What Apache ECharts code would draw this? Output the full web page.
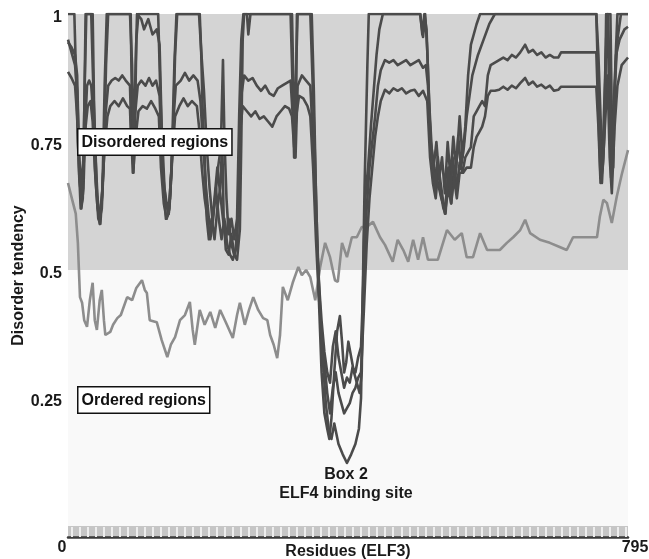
<!DOCTYPE html>
<html>
<head>
<meta charset="utf-8">
<script src="https://cdn.jsdelivr.net/npm/echarts@6/dist/echarts.min.js"></script>
<style>html,body{margin:0;padding:0;background:#fff;}#c{width:649px;height:559px;}</style>
</head>
<body>
<div id="c"></div>
<script>
// Residue range and tick labels
const residueMin = 0;
const residueMax = 795;
const xTickLabels = [0, 795];
const yTickValues = [0.25, 0.5, 0.75, 1];
const disorderThreshold = 0.5;

// Light grey predictor
const seriesLight = [[0,0.67],[6,0.637],[11,0.61],[14,0.553],[17,0.447],[20,0.436],[23,0.402],[27,0.389],[31,0.441],[35,0.475],[38,0.402],[41,0.383],[45,0.441],[48,0.461],[51,0.402],[53,0.373],[60,0.379],[64,0.393],[70,0.406],[75,0.412],[84,0.447],[91,0.441],[97,0.465],[105,0.48],[109,0.461],[112,0.455],[116,0.402],[126,0.398],[133,0.363],[141,0.33],[146,0.354],[152,0.369],[159,0.402],[166,0.412],[173,0.4375],[177,0.383],[180,0.354],[187,0.422],[194,0.393],[202,0.418],[209,0.387],[216,0.422],[224,0.398],[234,0.367],[240,0.412],[244,0.436],[251,0.393],[257,0.422],[263,0.447],[270,0.422],[277,0.406],[283,0.402],[287,0.373],[292,0.354],[297,0.328],[301,0.373],[305,0.467],[312,0.441],[319,0.475],[327,0.506],[332,0.49],[338,0.5],[344,0.486],[351,0.441],[358,0.506],[365,0.553],[372,0.525],[379,0.48],[383,0.477],[389,0.553],[396,0.525],[403,0.564],[410,0.564],[417,0.584],[424,0.584],[433,0.594],[443,0.564],[450,0.549],[461,0.516],[468,0.559],[476,0.539],[483,0.516],[490,0.559],[497,0.52],[504,0.564],[511,0.52],[525,0.52],[538,0.578],[549,0.559],[559,0.572],[566,0.525],[575,0.525],[585,0.572],[595,0.539],[613,0.539],[623,0.553],[632,0.564],[642,0.578],[649,0.598],[656,0.572],[670,0.559],[684,0.553],[698,0.545],[708,0.539],[717,0.564],[751,0.564],[755,0.604],[760,0.637],[765,0.631],[772,0.592],[779,0.643],[786,0.686],[795,0.734]];

// Dark predictors
const seriesA = [[0,1],[9,1],[11,0.9],[14,0.75],[18,0.62],[21,0.64],[23,0.8],[25,1],[35,1],[37,0.82],[41,0.65],[45,0.59],[49,0.66],[52,0.86],[55,1],[89,1],[91,0.8],[93,0.69],[95,0.78],[97,0.95],[100,1],[128,1],[131,0.85],[135,0.68],[139,0.6],[143,0.61],[147,0.7],[151,0.9],[154,1],[187,1],[189,0.93],[191,0.82],[194,0.72],[197,0.6],[200,0.56],[204,0.6],[208,0.56],[212,0.62],[216,0.66],[219,0.75],[221,0.6],[224,0.54],[228,0.53],[232,0.57],[236,0.53],[240,0.52],[244,0.58],[246,0.75],[248,0.95],[250,1],[316,1],[319,0.85],[321,0.72],[323,0.75],[325,1],[346,1],[349,0.85],[352,0.65],[356,0.45],[360,0.3],[364,0.22],[368,0.19],[371,0.17],[374,0.21],[378,0.3],[382,0.38],[386,0.41],[389,0.36],[392,0.3],[395,0.32],[398,0.36],[402,0.33],[406,0.3],[410,0.28],[414,0.26],[417,0.3],[419,0.5],[421,0.66],[423,0.78],[425,0.9],[427,1],[500,1],[503,0.96],[506,1],[509,0.97],[512,0.85],[515,0.74],[519,0.7],[523,0.75],[527,0.68],[531,0.72],[535,0.65],[539,0.75],[543,0.68],[547,0.76],[551,0.7],[556,0.8],[560,0.72],[564,0.78],[568,0.88],[572,0.94],[576,0.96],[580,0.98],[585,1],[750,1],[753,0.92],[756,0.8],[759,0.7],[762,0.8],[764,1],[770,1],[772,0.8],[774,0.7],[777,0.9],[780,1],[795,1]];

const seriesB = [[0,0.945],[5,0.935],[10,0.92],[13,0.88],[16,0.7],[19,0.62],[22,0.66],[25,0.8],[27,0.86],[30,0.87],[33,0.86],[36,0.8],[39,0.68],[43,0.6],[46,0.59],[49,0.66],[53,0.8],[57,0.86],[62,0.87],[67,0.875],[72,0.87],[77,0.88],[82,0.87],[88,0.86],[90,0.76],[92,0.69],[95,0.8],[99,0.86],[104,0.87],[110,0.86],[115,0.875],[120,0.86],[125,0.87],[130,0.84],[134,0.7],[139,0.63],[143,0.61],[147,0.7],[150,0.8],[153,0.86],[160,0.87],[166,0.885],[172,0.87],[178,0.88],[184,0.87],[188,0.83],[192,0.74],[196,0.66],[200,0.6],[204,0.58],[208,0.64],[212,0.7],[216,0.65],[220,0.6],[224,0.56],[228,0.6],[232,0.55],[236,0.53],[240,0.55],[243,0.7],[246,0.84],[250,0.88],[256,0.87],[262,0.875],[268,0.86],[274,0.85],[280,0.86],[286,0.845],[292,0.84],[298,0.855],[304,0.86],[310,0.865],[316,0.87],[320,0.78],[323,0.72],[326,0.86],[332,0.88],[338,0.87],[344,0.86],[348,0.75],[352,0.6],[356,0.48],[360,0.4],[364,0.34],[368,0.3],[372,0.28],[376,0.35],[380,0.38],[384,0.33],[388,0.3],[392,0.27],[396,0.29],[400,0.28],[404,0.31],[408,0.3],[412,0.33],[416,0.35],[420,0.5],[424,0.62],[428,0.7],[432,0.75],[436,0.8],[440,0.86],[444,0.89],[450,0.91],[456,0.905],[462,0.91],[468,0.9],[474,0.905],[480,0.91],[486,0.9],[492,0.905],[498,0.91],[504,0.895],[508,0.9],[511,0.86],[515,0.75],[520,0.7],[525,0.67],[530,0.64],[535,0.62],[540,0.68],[544,0.63],[548,0.7],[552,0.66],[556,0.71],[560,0.69],[564,0.72],[568,0.73],[572,0.74],[576,0.8],[580,0.81],[584,0.82],[588,0.83],[592,0.82],[596,0.88],[600,0.9],[606,0.905],[612,0.91],[618,0.915],[624,0.91],[630,0.92],[636,0.915],[642,0.925],[649,0.94],[654,0.925],[660,0.93],[666,0.92],[672,0.925],[678,0.915],[684,0.92],[690,0.915],[696,0.915],[700,0.925],[720,0.925],[740,0.925],[750,0.925],[753,0.8],[756,0.68],[759,0.72],[763,0.9],[766,1],[768,0.85],[771,0.68],[774,0.8],[778,0.92],[783,0.95],[790,0.97],[795,0.975]];

const seriesC = [[0,0.887],[5,0.875],[10,0.86],[13,0.8],[16,0.68],[19,0.64],[22,0.7],[25,0.78],[28,0.82],[32,0.83],[35,0.79],[38,0.7],[42,0.62],[45,0.6],[48,0.64],[52,0.74],[56,0.8],[60,0.82],[66,0.83],[72,0.82],[78,0.835],[84,0.82],[88,0.815],[90,0.74],[93,0.7],[96,0.76],[100,0.81],[106,0.82],[112,0.815],[118,0.83],[124,0.815],[129,0.8],[132,0.7],[136,0.63],[140,0.6],[144,0.62],[148,0.72],[152,0.8],[158,0.82],[164,0.835],[170,0.82],[176,0.83],[183,0.82],[186,0.78],[190,0.7],[194,0.64],[198,0.6],[202,0.56],[206,0.6],[210,0.66],[214,0.6],[218,0.56],[222,0.6],[226,0.55],[230,0.53],[234,0.52],[238,0.54],[242,0.62],[245,0.78],[248,0.82],[254,0.81],[260,0.8],[266,0.81],[272,0.795],[278,0.8],[284,0.79],[290,0.78],[296,0.8],[302,0.81],[308,0.82],[314,0.815],[318,0.8],[321,0.74],[324,0.8],[328,0.84],[334,0.835],[340,0.82],[344,0.8],[348,0.7],[352,0.56],[356,0.45],[360,0.38],[364,0.32],[368,0.26],[372,0.22],[376,0.27],[380,0.3],[384,0.26],[388,0.24],[392,0.22],[396,0.23],[400,0.24],[404,0.26],[408,0.27],[412,0.29],[416,0.3],[420,0.42],[424,0.55],[428,0.64],[432,0.7],[436,0.76],[440,0.8],[444,0.83],[450,0.852],[456,0.845],[462,0.855],[468,0.85],[474,0.855],[480,0.845],[486,0.85],[492,0.852],[498,0.84],[504,0.85],[510,0.83],[514,0.72],[518,0.67],[522,0.64],[526,0.7],[530,0.66],[535,0.61],[540,0.66],[544,0.63],[548,0.68],[552,0.64],[556,0.69],[561,0.69],[566,0.7],[572,0.7],[576,0.74],[580,0.76],[584,0.77],[588,0.78],[592,0.8],[596,0.84],[600,0.85],[606,0.85],[612,0.852],[618,0.858],[624,0.852],[630,0.86],[636,0.855],[642,0.865],[649,0.875],[654,0.862],[660,0.868],[666,0.858],[672,0.862],[678,0.855],[684,0.86],[690,0.85],[696,0.852],[700,0.858],[720,0.858],[740,0.858],[750,0.858],[753,0.78],[756,0.67],[759,0.7],[763,0.8],[766,0.88],[769,0.72],[772,0.65],[776,0.78],[780,0.86],[786,0.9],[795,0.915]];

const seriesD = [[0,0.95],[6,0.92],[10,0.9],[13,0.85],[16,0.72],[19,0.66],[22,0.72],[24,0.88],[26,1],[33,1],[35,0.9],[39,0.72],[42,0.64],[45,0.6],[48,0.62],[51,0.72],[54,0.9],[57,1],[88,1],[91,0.9],[93,0.72],[96,0.9],[98,1],[104,0.99],[108,0.97],[114,0.99],[120,0.96],[126,0.97],[130,0.94],[133,0.78],[137,0.66],[141,0.62],[145,0.64],[149,0.76],[152,0.92],[155,1],[186,1],[189,0.93],[193,0.85],[197,0.74],[201,0.66],[205,0.6],[209,0.64],[213,0.7],[217,0.74],[220,0.91],[222,0.76],[225,0.64],[228,0.57],[232,0.6],[236,0.56],[240,0.6],[243,0.8],[246,0.95],[249,1],[254,1],[256,0.96],[259,1],[318,1],[320,0.86],[322,0.72],[324,0.9],[326,1],[344,1],[346,0.92],[350,0.75],[354,0.55],[358,0.42],[362,0.32],[366,0.24],[370,0.19],[374,0.17],[378,0.2],[384,0.16],[390,0.14],[396,0.123],[402,0.14],[408,0.16],[413,0.19],[416,0.25],[418,0.4],[420,0.55],[422,0.64],[426,0.7],[430,0.78],[434,0.85],[438,0.92],[442,0.97],[447,1],[500,1],[504,0.955],[507,1],[510,0.93],[513,0.82],[517,0.72],[521,0.66],[525,0.72],[529,0.65],[533,0.62],[536,0.61],[540,0.7],[543,0.65],[546,0.72],[550,0.68],[554,0.76],[558,0.7],[562,0.74],[566,0.8],[570,0.84],[574,0.88],[578,0.9],[582,0.92],[590,0.95],[598,0.98],[606,1],[750,1],[752,0.9],[755,0.75],[758,0.67],[761,0.75],[764,0.95],[766,1],[769,0.9],[772,0.7],[776,0.85],[780,0.95],[785,1],[795,1]];

const FONT = '"Liberation Sans", Arial, sans-serif';
const stripBottom = -0.0215;
const stripeStep = 11.4;
const stripeTicks = [];
for (let v = stripeStep / 2; v < residueMax; v += stripeStep) stripeTicks.push(v);

const chart = echarts.init(document.getElementById('c'), null, {renderer: 'canvas'});
const darkLine = (data) => ({
  type: 'line', data, showSymbol: false, symbol: 'none', smooth: false, z: 3,
  lineStyle: {color: '#4b4b4b', width: 2.6, join: 'round'}
});
const labelRich = {fontFamily: FONT, fontWeight: 'bold', fontSize: 16, color: '#1a1a1a'};

chart.setOption({
  animation: false,
  backgroundColor: '#ffffff',
  grid: {left: 68, right: 21, top: 14, bottom: 22, containLabel: false, outerBoundsMode: 'none'},
  xAxis: {
    type: 'value', min: residueMin, max: residueMax, z: 10,
    name: 'Residues (ELF3)', nameLocation: 'middle', nameGap: 7, nameMoveOverlap: false,
    nameTextStyle: {fontFamily: FONT, fontWeight: 'bold', fontSize: 16, color: '#1a1a1a', verticalAlign: 'top'},
    axisLine: {show: true, onZero: false, lineStyle: {color: '#3a3a3a', width: 2.5}},
    axisTick: {show: true, inside: true, length: 10, customValues: stripeTicks, lineStyle: {color: '#eeeeee', width: 2}},
    axisLabel: {
      show: true, customValues: xTickLabels, margin: 3,
      fontFamily: FONT, fontWeight: 'bold', fontSize: 16, color: '#1a1a1a',
      formatter: (v) => v === residueMax ? '{r|' + v + '}' : '{l|' + v + '}',
      rich: {
        r: Object.assign({padding: [0, 0, 0, 14]}, labelRich),
        l: Object.assign({padding: [0, 12, 0, 0]}, labelRich)
      }
    },
    splitLine: {show: false}
  },
  yAxis: {
    type: 'value', min: stripBottom, max: 1,
    name: 'Disorder tendency', nameLocation: 'middle', nameGap: 41, nameRotate: 90, nameMoveOverlap: false,
    nameTextStyle: {fontFamily: FONT, fontWeight: 'bold', fontSize: 16, color: '#1a1a1a'},
    axisLine: {show: false}, axisTick: {show: false},
    axisLabel: {
      customValues: yTickValues, margin: 6,
      fontFamily: FONT, fontWeight: 'bold', fontSize: 16, color: '#1a1a1a',
      formatter: (v) => '{a|' + v + '}',
      rich: {a: Object.assign({padding: [7, 0, 0, 0]}, labelRich)}
    },
    splitLine: {show: false}
  },
  series: [
    {
      type: 'line', data: [], z: -1, silent: true,
      markArea: {
        silent: true,
        data: [
          [{yAxis: disorderThreshold, itemStyle: {color: '#d4d4d4'}}, {yAxis: 1}],
          [{yAxis: 0, itemStyle: {color: '#f9f9f9'}}, {yAxis: disorderThreshold}],
          [{yAxis: stripBottom, itemStyle: {color: '#c6c6c6'}}, {yAxis: 0}]
        ]
      }
    },
    {type: 'line', data: seriesLight, showSymbol: false, symbol: 'none', z: 2,
     lineStyle: {color: '#8d8d8d', width: 2.6}},
    darkLine(seriesA),
    darkLine(seriesB),
    darkLine(seriesC),
    darkLine(seriesD)
  ],
  graphic: [
    {type: 'text', left: 77, top: 128, z: 100,
     style: {text: 'Disordered regions', font: 'bold 16px ' + FONT, fill: '#111',
             backgroundColor: '#ffffff', borderColor: '#111', borderWidth: 1.5, padding: [5, 3, 4, 3]}},
    {type: 'text', left: 77, top: 386, z: 100,
     style: {text: 'Ordered regions', font: 'bold 16px ' + FONT, fill: '#111',
             backgroundColor: '#ffffff', borderColor: '#111', borderWidth: 1.5, padding: [5, 3, 4, 3]}},
    {type: 'text', x: 346, y: 467, z: 100,
     style: {text: 'Box 2', font: 'bold 16px ' + FONT, fill: '#1a1a1a', textAlign: 'center'}},
    {type: 'text', x: 346, y: 486, z: 100,
     style: {text: 'ELF4 binding site', font: 'bold 16px ' + FONT, fill: '#1a1a1a', textAlign: 'center'}}
  ]
});
</script>
</body>
</html>
